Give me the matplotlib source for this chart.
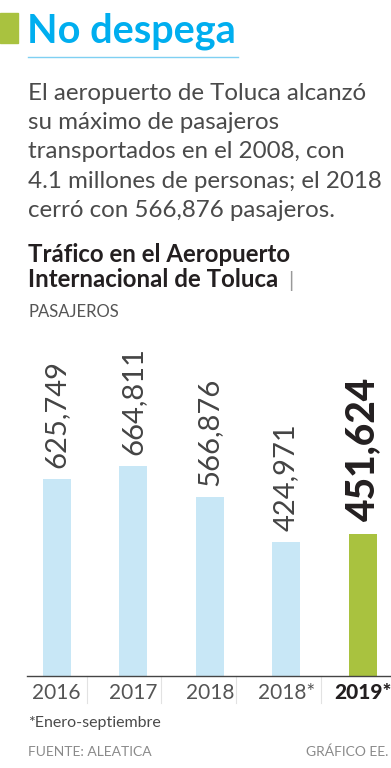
import matplotlib
matplotlib.use("Agg")
import matplotlib.pyplot as plt
from matplotlib.patches import Rectangle
from matplotlib.lines import Line2D

# data
categories = ["2016", "2017", "2018", "2018*", "2019*"]
passengers = [625749, 664811, 566876, 424971, 451624]
value_labels = ["625,749", "664,811", "566,876", "424,971", "451,624"]

title = "No despega"
body_lines = [
    "El aeropuerto de Toluca alcanzó",
    "su máximo de pasajeros",
    "transportados en el 2008, con",
    "4.1 millones de personas; el 2018",
    "cerró con 566,876 pasajeros.",
]
subtitle_lines = ["Tráfico en el Aeropuerto", "Internacional de Toluca"]
unit = "PASAJEROS"
footnote = "*Enero-septiembre"
source = "FUENTE: ALEATICA"
credit = "GRÁFICO EE."

W, H = 391, 768
BLUE = "#00AEEF"
GREEN = "#A9C23F"
BAR = "#C8E7F6"
GRAY = "#4A4A4A"
FONT = ["Lato", "DejaVu Sans"]


def fx(px):
    return px / W


def fy(py):
    return 1 - py / H


def main():
    fig = plt.figure(figsize=(W / 100, H / 100), dpi=100)
    fig.patch.set_facecolor("white")

    # header
    fig.patches.append(Rectangle((fx(0), fy(43)), fx(18), 30 / H,
                                 transform=fig.transFigure, color=GREEN))
    fig.text(fx(27), fy(43), title, fontsize=28.5, fontweight="bold",
             color=BLUE, family=FONT, va="baseline")
    fig.lines.append(Line2D([fx(28), fx(238)], [fy(57), fy(57)],
                            transform=fig.transFigure, color="#7FD0F2", lw=1))

    for i, line in enumerate(body_lines):
        fig.text(fx(28), fy(100 + i * 29.2), line, fontsize=17.4,
                 color=GRAY, family=FONT, va="baseline")

    for i, line in enumerate(subtitle_lines):
        sub = fig.text(fx(28), fy(262 + i * 25), line, fontsize=17.3,
                       fontweight="bold", color="#231F20", family=FONT,
                       va="baseline")
    fig.canvas.draw()
    bb = sub.get_window_extent()
    fig.text((bb.x1 + 10) / W, fy(287), "|", fontsize=15, color="#999999",
             family=FONT, va="baseline")
    fig.text(fx(28), fy(317), unit, fontsize=12, color="#555555",
             family=FONT, va="baseline")

    # bars
    ax = fig.add_axes([fx(27), fy(675.7), fx(391) - fx(27), 345.7 / H])
    x = list(range(len(categories)))
    colors = [BAR] * (len(categories) - 1) + [GREEN]
    ax.bar(x, passengers, width=0.366, color=colors)
    ax.set_xlim(-0.388, 4.37)
    ax.set_ylim(0, 1098000)

    for i, (v, lab) in enumerate(zip(passengers, value_labels)):
        last = i == len(passengers) - 1
        ax.annotate(lab, (i, v), xytext=(0, 8), textcoords="offset points",
                    rotation=90, ha="center", va="bottom", family=FONT,
                    fontsize=28 if last else 21,
                    fontweight="black" if last else "normal",
                    color="#231F20" if last else "#444444")

    for s in ["top", "right", "left"]:
        ax.spines[s].set_visible(False)
    ax.spines["bottom"].set_color("#444444")
    ax.spines["bottom"].set_linewidth(1)
    ax.set_yticks([])
    ax.set_xticks(x, categories)
    ax.tick_params(axis="x", length=0, pad=5)
    for i, lab in enumerate(ax.get_xticklabels()):
        lab.set_family(FONT)
        lab.set_fontsize(15)
        if i == len(categories) - 1:
            lab.set_fontweight("black")
            lab.set_color("#231F20")
        else:
            lab.set_color("#555555")

    for sx in [0.40, 1.36, 2.34, 3.45]:
        ax.plot([sx, sx], [0, -0.078], transform=ax.get_xaxis_transform(),
                clip_on=False, color="#E2E2E2", lw=0.8)

    # footer
    fig.text(fx(28), fy(727), footnote, fontsize=11.5, color=GRAY,
             family=FONT, va="baseline")
    fig.text(fx(28), fy(756), source, fontsize=10, color="#8A8A8A",
             family=FONT, va="baseline")
    fig.text(fx(388), fy(756), credit, fontsize=10, color="#8A8A8A",
             family=FONT, va="baseline", ha="right")

    fig.savefig("out.png", dpi=100)


if __name__ == "__main__":
    main()
